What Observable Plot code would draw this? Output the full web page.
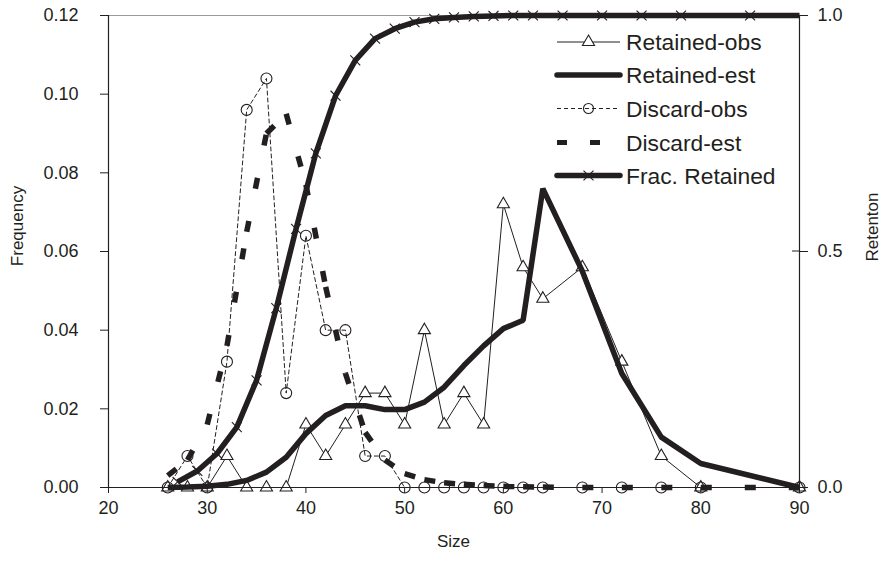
<!DOCTYPE html>
<html><head><meta charset="utf-8">
<script src="https://cdn.jsdelivr.net/npm/d3@7"></script>
<script src="https://cdn.jsdelivr.net/npm/@observablehq/plot@0.6"></script>
<style>body{margin:0;background:#fff}</style>
</head><body><div id="chart"></div>
<script>
// Size classes of the observed / estimated frequency distributions
const sizes        = [26, 28, 30, 32, 34, 36, 38, 40, 42, 44, 46, 48, 50, 52, 54, 56, 58, 60, 62, 64, 68, 72, 76, 80, 90];
const retainedObs  = [0, 0, 0, 0.008, 0, 0, 0, 0.016, 0.008, 0.016, 0.024, 0.024, 0.016, 0.040, 0.016, 0.024, 0.016, 0.072, 0.056, 0.048, 0.056, 0.032, 0.008, 0, 0];
const retainedEst  = [0, 0.0001, 0.0003, 0.0008, 0.0018, 0.0039, 0.0077, 0.0137, 0.0183, 0.0208, 0.0208, 0.0198, 0.0198, 0.0217, 0.0255, 0.031, 0.036, 0.0404, 0.0425, 0.076, 0.055, 0.029, 0.0128, 0.0061, 0];
const discardObs   = [0, 0.008, 0, 0.032, 0.096, 0.104, 0.024, 0.064, 0.040, 0.040, 0.008, 0.008, 0, 0, 0, 0, 0, 0, 0, 0, 0, 0, 0, 0, 0];
const discardEst   = [0.003, 0.007, 0.016, 0.036, 0.065, 0.090, 0.095, 0.077, 0.051, 0.029, 0.014, 0.007, 0.0035, 0.002, 0.0012, 0.0008, 0.0005, 0.0003, 0.0002, 0.0001, 0, 0, 0, 0, 0];
// Retention curve (right axis), at bin midpoints
const fracSizes    = [27, 29, 31, 33, 35, 37, 39, 41, 43, 45, 47, 49, 51, 53, 55, 57, 59, 61, 63, 66, 70, 74, 78, 85, 90];
const fracRetained = [0.012, 0.035, 0.072, 0.128, 0.227, 0.38, 0.548, 0.708, 0.83, 0.905, 0.951, 0.972, 0.986, 0.993, 0.996, 0.998, 0.999, 1, 1, 1, 1, 1, 1, 1, 1];
// Tick labels
const xTicks = [20, 30, 40, 50, 60, 70, 80, 90];
const yTicks = [0, 0.02, 0.04, 0.06, 0.08, 0.10, 0.12];
const rTicks = [0, 0.5, 1.0];
const legendLabels = ["Retained-obs", "Retained-est", "Discard-obs", "Discard-est", "Frac. Retained"];

const ink = "#231f20";
const FREQ_MAX = 0.12;
const font = "Liberation Sans, Arial, Helvetica, sans-serif";

const table = sizes.map((s, i) => ({size: s, retObs: retainedObs[i], retEst: retainedEst[i], disObs: discardObs[i], disEst: discardEst[i]}));
const fracTable = fracSizes.map((s, i) => ({size: s, frac: fracRetained[i]}));
const segs = d3.pairs(table).map(([a, b]) => ({x1: a.size, y1: a.disEst, x2: b.size, y2: b.disEst}));

const plot = Plot.plot({
  width: 887, height: 567,
  marginTop: 15, marginBottom: 80, marginLeft: 108, marginRight: 88,
  style: {fontFamily: font, fontSize: "18px", color: ink, background: "#fff"},
  x: {domain: [20, 90]},
  y: {domain: [0, 0.12]},
  marks: [
    Plot.ruleY([0.12], {stroke: "#9a9a9a", strokeWidth: 1}),
    Plot.line(table, {x: "size", y: "retObs", stroke: ink, strokeWidth: 1}),
    Plot.dot(table, {x: "size", y: "retObs", symbol: "triangle", r: 4.5, stroke: ink, fill: "white", strokeWidth: 1.1}),
    Plot.line(table, {x: "size", y: "retEst", stroke: ink, strokeWidth: 5.5, strokeLinejoin: "miter", strokeLinecap: "butt"}),
    Plot.line(table, {x: "size", y: "disObs", stroke: ink, strokeWidth: 1, strokeDasharray: "4,3"}),
    Plot.dot(table, {x: "size", y: "disObs", r: 5.5, stroke: ink, fill: "none", strokeWidth: 1.1}),
    Plot.link(segs, {x1: "x1", y1: "y1", x2: "x2", y2: "y2", stroke: ink, strokeWidth: 5.5, strokeDasharray: "11,33", strokeLinecap: "butt"}),
    Plot.line(fracTable, {x: "size", y: d => d.frac * FREQ_MAX, stroke: ink, strokeWidth: 5.5, strokeLinecap: "butt"}),
    Plot.dot(fracTable.filter(d => d.size < 90), {x: "size", y: d => d.frac * FREQ_MAX, symbol: "times", r: 4.6, stroke: ink, strokeWidth: 1.1}),
    Plot.ruleX([20, 90], {stroke: ink, strokeWidth: 1.2}),
    Plot.ruleY([0], {stroke: ink, strokeWidth: 1.2}),
    Plot.axisX({ticks: xTicks, tickSize: 6, tickPadding: 8, label: null, stroke: ink, fill: ink}),
    Plot.axisY({ticks: yTicks, tickFormat: d => d.toFixed(2), tickSize: 8, tickPadding: 22, label: null, stroke: ink, fill: ink}),
    Plot.axisY({anchor: "right", ticks: rTicks.map(d => d * FREQ_MAX), tickFormat: d => (d / FREQ_MAX).toFixed(1), tickSize: 8, tickPadding: 10, label: null, stroke: ink, fill: ink})
  ]
});
document.getElementById("chart").appendChild(plot);

const svg = d3.select(plot);
const xs = plot.scale("x"), ys = plot.scale("y");
const xr = xs.apply(90);
// inward part of the right-axis ticks
svg.append("g").selectAll("line").data(rTicks).join("line")
  .attr("x1", xr - 7).attr("x2", xr)
  .attr("y1", d => ys.apply(d * FREQ_MAX)).attr("y2", d => ys.apply(d * FREQ_MAX))
  .attr("stroke", ink);

// axis titles
const titles = svg.append("g").attr("font-family", font).attr("font-size", 17).attr("fill", ink).attr("text-anchor", "middle");
titles.append("text").attr("transform", "translate(17,226) rotate(-90)").attr("dominant-baseline", "central").text("Frequency");
titles.append("text").attr("transform", "translate(872,227) rotate(-90)").attr("dominant-baseline", "central").text("Retenton");
titles.append("text").attr("x", (xs.apply(20) + xs.apply(90)) / 2).attr("y", 541).attr("dominant-baseline", "central").text("Size");

// legend
const lg = svg.append("g").attr("font-family", font).attr("font-size", 22.8).attr("fill", ink).attr("text-anchor", "start");
const lx0 = 557, lx1 = 620, ltx = 626, lys = [42, 75, 108.5, 142.5, 175.5];
const sym = (type, size) => d3.symbol(type, size)();
legendLabels.forEach((lab, i) => {
  const y = lys[i];
  const g = lg.append("g");
  if (i === 0) {
    g.append("line").attr("x1", lx0).attr("x2", lx1).attr("y1", y).attr("y2", y).attr("stroke", ink).attr("stroke-width", 1);
    g.append("path").attr("d", sym(d3.symbolTriangle, Math.PI * 4.5 * 4.5)).attr("transform", `translate(${(lx0 + lx1) / 2},${y})`).attr("fill", "white").attr("stroke", ink).attr("stroke-width", 1.1);
  } else if (i === 1) {
    g.append("line").attr("x1", lx0).attr("x2", lx1).attr("y1", y).attr("y2", y).attr("stroke", ink).attr("stroke-width", 5.5).attr("stroke-linecap", "round");
  } else if (i === 2) {
    g.append("line").attr("x1", lx0).attr("x2", lx1).attr("y1", y).attr("y2", y).attr("stroke", ink).attr("stroke-width", 1).attr("stroke-dasharray", "4,3");
    g.append("circle").attr("cx", (lx0 + lx1) / 2).attr("cy", y).attr("r", 5).attr("fill", "none").attr("stroke", ink).attr("stroke-width", 1.1);
  } else if (i === 3) {
    g.append("line").attr("x1", lx0).attr("x2", lx1).attr("y1", y).attr("y2", y).attr("stroke", ink).attr("stroke-width", 5).attr("stroke-dasharray", "10,23");
  } else {
    g.append("line").attr("x1", lx0).attr("x2", lx1).attr("y1", y).attr("y2", y).attr("stroke", ink).attr("stroke-width", 5.5).attr("stroke-linecap", "round");
    g.append("path").attr("d", sym(d3.symbolTimes, Math.PI * 4.6 * 4.6)).attr("transform", `translate(${(lx0 + lx1) / 2},${y})`).attr("fill", "none").attr("stroke", ink).attr("stroke-width", 1.1);
  }
  g.append("text").attr("x", ltx).attr("y", y).attr("dominant-baseline", "central").text(lab);
});
</script>
</body></html>
